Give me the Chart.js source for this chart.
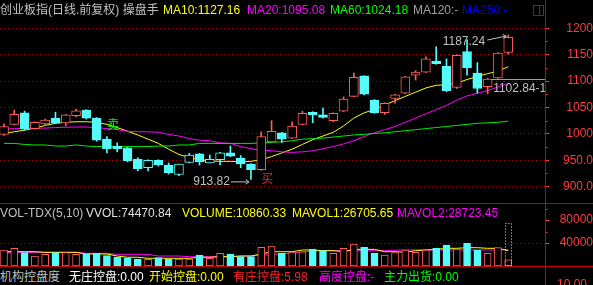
<!DOCTYPE html>
<html><head><meta charset="utf-8">
<script src="https://cdn.jsdelivr.net/npm/chart.js@4.4.0/dist/chart.umd.min.js"></script>
<style>
html,body{margin:0;padding:0;background:#000;}
#root{position:relative;width:593px;height:285px;overflow:hidden;background:#000;font-family:'Liberation Sans','Noto Sans CJK SC',sans-serif;font-size:12px;}
.t{position:absolute;white-space:nowrap;line-height:12px;}
.wrap{position:absolute;left:0;width:593px;}
.hl{position:absolute;left:0;width:593px;height:1px;background:#c80000;}
.vl{position:absolute;left:545px;top:0;width:1px;height:285px;background:#c80000;}
#icon{position:absolute;left:533px;top:5px;width:9px;height:9px;border:1px solid #c80000;}
#icon:after{content:'';position:absolute;left:5px;top:0;width:1px;height:9px;background:#c80000;}
</style></head>
<body><div id="root">
<div class="wrap" style="top:0;height:203px"><canvas id="main"></canvas></div>
<div class="wrap" style="top:204px;height:62px"><canvas id="vol"></canvas></div>
<div class="hl" style="top:203px"></div>
<div class="hl" style="top:266px"></div>
<div class="vl"></div>
<div id="icon"></div>
<div id="texts"></div>
</div>
<script>
// ---- data ----
const priceTicks = [900, 950, 1000, 1050, 1100, 1150, 1200];
const priceMinorTicks = [925, 975, 1025, 1075, 1125, 1175];
const volumeTicks = [40000, 80000];
const volumeMinorTicks = [60000, 100000];

const open  = [999,1018,1040,1010,1019,1030,1021,1034.5,1045,1030, 990,977,973,952,936,950,941,923,946,962, 945,951,964,954,943,932,985,1002,992,1018, 1041,1036,1025,1043,1071,1110,1064,1040,1067,1077, 1111,1117,1138,1128,1088,1156,1115,1089.5,1106,1154.5];
const close = [1014,1037,1009,1022,1026,1021,1036,1043.5,1030,988, 972,972,949,934,950,941,926,943,960,947, 952,964,958,943,932,995,1005,990,1015,1039, 1036,1031,1039,1066,1107,1075,1040,1058,1074,1108, 1117,1142,1133,1082,1149,1125,1086,1104,1153,1183];
const high  = [1019,1045,1043,1023,1028,1041,1037,1047,1046,1031, 995,983,975,955,951,951,945,943,963,963, 960,965,977,959,944,1004,1025,1003,1023,1043, 1042,1049,1040,1070,1115,1110,1065,1059,1075,1109, 1120,1146,1165,1142,1150,1178,1135,1105,1154,1187.24];
const low   = [997,1017,1007,1009,1016,1020,1015,1032,1028,986, 964,966,947,930,930,939,924,921,945,941, 945,941,957,936,913.82,931,984,984,991,1017, 1021,1030,1023,1042,1070,1074,1039,1037,1058,1076, 1102,1116,1132,1080,1086,1111,1077,1076,1105,1151];
const weakBars = [14, 17, 18, 20, 21];

const ma10 = [1001,1004,1007,1011,1016,1020,1022,1023,1023,1022, 1018,1012,1005,998,990,982,971,961,955,951, 949,948,948,947,948,951,957,964,971,980, 989,996,1003,1015,1030,1040,1046,1055,1063,1071, 1079,1087,1092,1093,1096,1103,1109,1114,1119,1127.16];
const ma20 = [1009,1010,1010,1010.5,1011,1012,1012.5,1013,1013,1012, 1010,1008,1005,1004,1004,1003,999,996,991,988, 987,983,982,976,972,969,968,966,965,966, 968,972,976,981,987,995,1002,1008,1014,1022, 1030,1038,1046,1054,1064,1072,1077,1082,1089,1095.08];
const ma60 = [982,982,980,979,979,977,977,979,977,976, 976,976,976,976,976,977,977,979,979,982, 982,982,982,982,982,983,984,985,987,990, 991,992,994,996,998,999,1001,1002,1004,1006, 1008,1010,1012,1014,1016,1018,1020,1021,1022,1024.18];

const volume = [27900,30800,23200,17400,20300,23200,23200,20300,20300,22100, 18000,15700,13900,12200,11600,14500,12200,12200,12200,19200, 13400,22100,20900,16200,16200,32600,34800,22100,24400,24900, 29000,26700,22100,30800,38300,32600,22100,19200,23200,27900, 23800,27900,30800,36600,29600,39500,27900,22100,31900,10860.33];
const mavol1 = [25000,25000,25000,24900,23800,23800,23800,23800,21000,20900, 20900,17400,15200,15200,13400,13400,13400,13400,13400,15200, 15200,16200,16200,17400,17400,20900,24900,24900,24900,27900, 27900,26700,26700,24900,29000,29000,29000,24900,24900,23800, 26700,27900,29000,30800,30800,31900,31900,30800,30800,26705.65];
const mavol2 = [23200,23200,23200,23800,23800,23800,23800,23800,22100,22100, 22100,20300,20300,20300,20300,17400,17400,17400,16200,16200, 16200,16200,16200,17400,17400,19000,20300,21000,22100,24900, 25500,26700,26700,26700,26700,26700,26700,26700,27500,27900, 27900,27900,27900,27900,27900,27900,27900,27900,27900,28723.45];
const vvol = 74470.84;

const refLevel = {bar: 47, price: 1102.84};
const sellSignals = [{bar: 10, price: 1027}];
const buySignals = [{bar: 25, price: 926}];
const controlValues = {none: '0.00', start: '0.00', has: '5.98', high: '-', out: '0.00'};

// ---- styles ----
const RED = '#ff5c5c', CYAN = '#54fcfc', AXIS = '#ff3c3c', GRID = '#a80000', GRAY = '#c0c0c0';
const FONT = "'Liberation Sans','Noto Sans CJK SC',sans-serif";
Chart.defaults.font.family = FONT;
Chart.defaults.font.size = 12;

// ---- header texts ----
const texts = [
  [0, 4, GRAY, '创业板指(日线.前复权) 操盘手'],
  [163, 4, '#ffff00', 'MA10:' + ma10[ma10.length-1].toFixed(2)],
  [247, 4, '#ff00ff', 'MA20:' + ma20[ma20.length-1].toFixed(2)],
  [330, 4, '#00ff00', 'MA60:' + ma60[ma60.length-1].toFixed(2)],
  [413, 4, '#a0a0a0', 'MA120:-'],
  [462, 4, '#0000ff', 'MA250:-'],
  [0, 207, GRAY, 'VOL-TDX(5,10)'],
  [86, 207, '#e0e0e0', 'VVOL:' + vvol.toFixed(2)],
  [182, 207, '#ffff00', 'VOLUME:' + volume[volume.length-1].toFixed(2)],
  [292, 207, '#ffff00', 'MAVOL1:' + mavol1[mavol1.length-1].toFixed(2)],
  [397, 207, '#ff00ff', 'MAVOL2:' + mavol2[mavol2.length-1].toFixed(2)],
  [0, 271, GRAY, '机构控盘度'],
  [69, 271, '#ffffff', '无庄控盘:' + controlValues.none],
  [149, 271, '#ffff00', '开始控盘:' + controlValues.start],
  [233, 271, '#ff2020', '有庄控盘:' + controlValues.has],
  [319, 271, '#ff00ff', '高度控盘:' + controlValues.high],
  [384, 271, '#00ff00', '主力出货:' + controlValues.out],
];
const tbox = document.getElementById('texts');
for (const [x, y, c, s] of texts) {
  const d = document.createElement('div');
  d.className = 't'; d.style.left = x + 'px'; d.style.top = y + 'px'; d.style.color = c; d.textContent = s;
  tbox.appendChild(d);
}
const lbl = document.createElement('div');
lbl.className = 't'; lbl.style.right = '6px'; lbl.style.top = '278px'; lbl.style.color = AXIS; lbl.textContent = '10.00';
tbox.appendChild(lbl);

// ---- helpers ----
const idx = open.map((_, i) => i);
const isUp = i => close[i] >= open[i];
const candleColor = i => weakBars.includes(i) ? CYAN : (isUp(i) ? RED : CYAN);
const X_MIN = -0.39, X_MAX = 52.575;

function minorTicks(values) {
  return {
    id: 'minorTicks',
    afterDraw(chart) {
      const {ctx, chartArea, scales: {y}} = chart;
      ctx.save();
      ctx.strokeStyle = AXIS; ctx.lineWidth = 1;
      for (const v of values) {
        const py = Math.round(y.getPixelForValue(v)) + 0.5;
        ctx.beginPath(); ctx.moveTo(chartArea.right, py); ctx.lineTo(chartArea.right + 2.5, py); ctx.stroke();
      }
      ctx.restore();
    }
  };
}

function arrowLine(ctx, x1, y1, x2, y2) {
  ctx.beginPath(); ctx.moveTo(x1, y1); ctx.lineTo(x2, y2); ctx.stroke();
  const a = Math.atan2(y2 - y1, x2 - x1);
  ctx.beginPath();
  ctx.moveTo(x2 - 4 * Math.cos(a - 0.6), y2 - 4 * Math.sin(a - 0.6));
  ctx.lineTo(x2, y2);
  ctx.lineTo(x2 - 4 * Math.cos(a + 0.6), y2 - 4 * Math.sin(a + 0.6));
  ctx.stroke();
}

const annotate = {
  id: 'annotate',
  afterDatasetsDraw(chart) {
    const {ctx, chartArea, scales: {x, y}} = chart;
    ctx.save();
    ctx.beginPath(); ctx.rect(chartArea.left, chartArea.top, chartArea.width, chartArea.height); ctx.clip();
    ctx.font = '12px ' + FONT;
    ctx.fillStyle = GRAY; ctx.strokeStyle = GRAY; ctx.lineWidth = 1;
    // highest
    const hi = high.indexOf(Math.max(...high));
    const hx = x.getPixelForValue(hi), hy = y.getPixelForValue(high[hi]);
    ctx.textAlign = 'right'; ctx.textBaseline = 'middle';
    ctx.fillText(high[hi].toFixed(2), hx - 23, hy + 7);
    arrowLine(ctx, hx - 21, hy + 5, hx - 2, hy + 1);
    // lowest
    const lo = low.indexOf(Math.min(...low));
    const lx = x.getPixelForValue(lo), ly = y.getPixelForValue(low[lo]);
    ctx.fillText(low[lo].toFixed(2), lx - 21, ly + 2.5);
    arrowLine(ctx, lx - 20, ly + 2.5, lx - 2, ly + 2.5);
    // reference level
    const rx = x.getPixelForValue(refLevel.bar) + 4, ry = Math.round(y.getPixelForValue(refLevel.price)) - 0.5;
    ctx.strokeStyle = '#a0a0a0';
    ctx.beginPath(); ctx.moveTo(rx, ry); ctx.lineTo(chartArea.right, ry); ctx.stroke();
    ctx.textAlign = 'left';
    ctx.fillText(refLevel.price.toFixed(2) + '-1', rx + 1.5, ry + 9.5);
    // signals
    ctx.textBaseline = 'top';
    ctx.font = '12px "Noto Sans CJK SC"';
    ctx.fillStyle = '#00ff00';
    for (const s of sellSignals) ctx.fillText('卖', x.getPixelForValue(s.bar), y.getPixelForValue(s.price) - 1);
    ctx.fillStyle = '#ff2020';
    for (const s of buySignals) ctx.fillText('买', x.getPixelForValue(s.bar), y.getPixelForValue(s.price) - 1);
    ctx.restore();
  }
};

const lineDs = (data, color, order) => ({
  type: 'line', data: data.map((v, i) => ({x: i, y: v})), borderColor: color, borderWidth: 1,
  pointRadius: 0, tension: 0, order
});

function yAxis(min, max, ticks, padding, fmt, gridFor) {
  return {
    position: 'right', min, max,
    afterBuildTicks: s => { s.ticks = ticks.map(v => ({value: v})); },
    afterFit: s => { s.width = 48; s.paddingTop = 0; s.paddingBottom = 0; },
    grid: {
      color: c => (c.tick && gridFor(c.tick.value)) ? GRID : 'rgba(0,0,0,0)',
      tickColor: AXIS, tickLength: 4, lineWidth: 1, drawTicks: true
    },
    border: {display: false, dash: [1, 3]},
    ticks: {color: AXIS, padding, crossAlign: 'far', font: {size: 12, family: FONT}, callback: fmt}
  };
}
const xAxis = {type: 'linear', min: X_MIN, max: X_MAX, offset: false, display: false, grid: {offset: false}};
const barBase = {grouped: false, barPercentage: 1, categoryPercentage: 1, borderSkipped: false};

// ---- main chart ----
new Chart(document.getElementById('main'), {
  type: 'bar',
  data: {
    datasets: [
      {...barBase, type: 'bar', data: idx.map(i => ({x: i, y: [Math.min(open[i], close[i]), Math.max(open[i], close[i])]})),
       backgroundColor: c => isUp(c.dataIndex) ? '#000000' : CYAN,
       borderColor: c => candleColor(c.dataIndex), borderWidth: 1,
       maxBarThickness: 9, order: 0},
      {...barBase, type: 'bar', data: idx.map(i => ({x: i, y: [low[i], high[i]]})),
       backgroundColor: c => candleColor(c.dataIndex), borderWidth: 0,
       maxBarThickness: 1, order: 1},
      lineDs(ma60, '#00ee00', 2),
      lineDs(ma20, '#ff00ff', 3),
      lineDs(ma10, '#ffff00', 4),
    ]
  },
  options: {
    responsive: true, maintainAspectRatio: false, animation: false,
    layout: {padding: 0},
    plugins: {legend: {display: false}, tooltip: {enabled: false}},
    scales: {
      x: xAxis,
      y: yAxis(869.1, 1253.6, priceTicks, 7, v => v >= 1000 ? String(v) : v.toFixed(1), () => true)
    }
  },
  plugins: [annotate, minorTicks(priceMinorTicks)]
});

// ---- volume chart ----
const vvolBox = {
  id: 'vvolBox',
  afterDatasetsDraw(chart) {
    const {ctx, scales: {y}} = chart;
    const bar = chart.getDatasetMeta(0).data[volume.length - 1];
    if (!bar) return;
    const w = bar.width, l = Math.round(bar.x - w / 2) + 0.5, r = l + Math.round(w) - 1;
    const t = Math.round(y.getPixelForValue(vvol)) + 0.5, b = Math.round(y.getPixelForValue(0)) - 0.5;
    ctx.save();
    ctx.strokeStyle = '#ffff00'; ctx.lineWidth = 1; ctx.setLineDash([1, 2]);
    ctx.strokeRect(l, t, r - l, b - t);
    ctx.restore();
  }
};

new Chart(document.getElementById('vol'), {
  type: 'bar',
  data: {
    datasets: [
      {...barBase, type: 'bar', data: idx.map(i => ({x: i, y: volume[i]})),
       backgroundColor: c => isUp(c.dataIndex) ? '#000000' : CYAN,
       borderColor: c => isUp(c.dataIndex) ? RED : CYAN, borderWidth: 1,
       maxBarThickness: 7, order: 0},
      lineDs(mavol2, '#ff00ff', 2),
      lineDs(mavol1, '#ffff00', 1),
    ]
  },
  options: {
    responsive: true, maintainAspectRatio: false, animation: false,
    layout: {padding: 0},
    plugins: {legend: {display: false}, tooltip: {enabled: false}},
    scales: {
      x: xAxis,
      y: yAxis(0, 108000, volumeTicks, 2, v => String(v), v => v === 40000)
    }
  },
  plugins: [vvolBox, minorTicks(volumeMinorTicks)]
});
</script>
</body></html>
